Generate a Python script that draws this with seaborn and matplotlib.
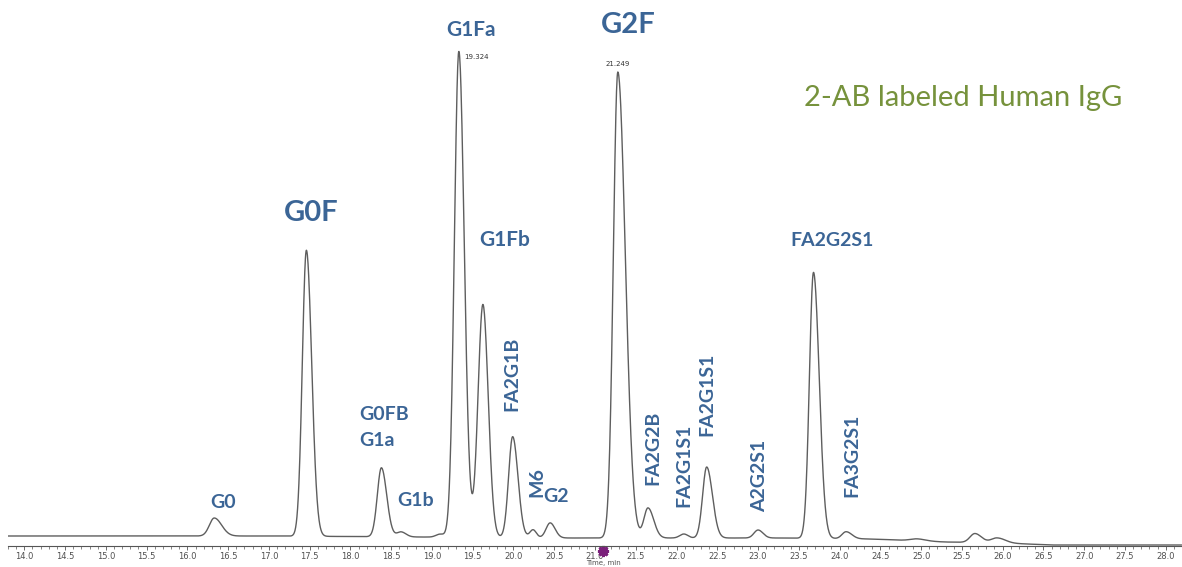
import numpy as np
import pandas as pd
import seaborn as sns
import matplotlib.pyplot as plt
from matplotlib.ticker import MultipleLocator

sns.set_theme(style="white")
plt.rcParams['font.family'] = ['Lato', 'DejaVu Sans']

# peaks: retention time (min), height (detector units), left/right widths (min)
peak_rt = [16.33, 17.46, 18.38, 18.62, 19.10, 19.33, 19.625, 19.99, 20.24, 20.45,
           21.28, 21.65, 22.09, 22.37, 23.00, 23.68, 24.08, 24.95, 25.66, 25.93]
peak_height = [18, 286, 69, 5, 3, 486, 233, 101, 8, 15,
               466, 30, 4, 71, 8, 266, 7, 2, 9, 5]
sigma_left = [0.06, 0.05, 0.05, 0.05, 0.05, 0.055, 0.06, 0.05, 0.04, 0.05,
              0.055, 0.05, 0.05, 0.05, 0.05, 0.05, 0.05, 0.08, 0.06, 0.07]
sigma_right = [0.09, 0.065, 0.065, 0.06, 0.05, 0.066, 0.065, 0.065, 0.04, 0.06,
               0.092, 0.07, 0.05, 0.07, 0.06, 0.07, 0.07, 0.10, 0.08, 0.10]

# slow baseline drift
base_t = [13.8, 17.0, 20.7, 23.3, 24.4, 25.3, 26.0, 26.6, 28.2]
base_y = [0, 0, -2, -2, -3, -6, -7, -9, -9]

# peak labels: text, time, level, rotation, size
labels = [
    ("G0", 16.44, 33, 0, 14),
    ("G0F", 17.52, 323, 0, 21),
    ("G1Fa", 19.48, 506, 0, 15),
    ("G1Fb", 19.895, 296, 0, 15),
    ("FA2G1B", 19.98, 162, 90, 14),
    ("M6", 20.29, 54, 90, 14),
    ("G2", 20.52, 39, 0, 14),
    ("G2F", 21.41, 511, 0, 21),
    ("FA2G2B", 21.71, 88, 90, 14),
    ("FA2G1S1", 22.09, 71, 90, 14),
    ("FA2G1S1", 22.37, 142, 90, 14),
    ("A2G2S1", 23.02, 60, 90, 14),
    ("FA2G2S1", 23.91, 296, 0, 14),
    ("FA3G2S1", 24.15, 81, 90, 14),
]
rt_marks = [("19.324", 19.40, 479, "left"), ("21.249", 21.28, 472, "center")]
inject_t = 21.1

t = np.arange(13.8, 28.2, 0.004)
signal = np.interp(t, base_t, base_y)
for rt, h, sl, sr in zip(peak_rt, peak_height, sigma_left, sigma_right):
    s = np.where(t < rt, sl, sr)
    signal = signal + h * np.exp(-0.5 * ((t - rt) / s) ** 2)
df = pd.DataFrame({"time": t, "signal": signal})

fig = plt.figure(figsize=(11.82, 5.67), dpi=100)
ax = fig.add_axes([8 / 1182, 21 / 567, 1 - 8 / 1182, 546 / 567])
sns.lineplot(data=df, x="time", y="signal", ax=ax, color="#5e5e5e", linewidth=1.0)

ax.set_xlim(13.8, 28.2)
ax.set_ylim(-10, 536)
ax.set_yticks([])
ax.set_ylabel("")
ax.set_xlabel("")
for side in ["left", "top", "right"]:
    ax.spines[side].set_visible(False)
ax.spines["bottom"].set_color("#555555")
ax.spines["bottom"].set_linewidth(0.8)
ax.xaxis.set_major_locator(MultipleLocator(0.5))
ax.xaxis.set_minor_locator(MultipleLocator(0.1))
ax.tick_params(axis="x", which="major", direction="out", length=3, width=0.6,
               color="#555555", labelsize=6, labelcolor="#505050", pad=1.5, bottom=True)
ax.tick_params(axis="x", which="minor", direction="out", length=2, width=0.5,
               color="#555555", bottom=True)
ax.set_xticks(np.arange(14.0, 28.01, 0.5))
ax.set_xticklabels([f"{v:.1f}" for v in np.arange(14.0, 28.01, 0.5)],
                   family=["Liberation Sans Narrow", "DejaVu Sans"])
ax.text((603 - 8) / 1174, -0.0315, "Time, min", transform=ax.transAxes,
        fontsize=5, color="#505050", ha="center", va="center",
        family=["Liberation Sans Narrow", "DejaVu Sans"])

blue = "#3b6596"
for txt, x, y, rot, size in labels:
    ax.text(x, y, txt, rotation=rot, fontsize=size, fontweight="bold", color=blue,
            ha="center", va="center")
ax.text(18.105, 121, "G0FB", fontsize=14, fontweight="bold", color=blue, ha="left", va="center")
ax.text(18.105, 96, "G1a", fontsize=14, fontweight="bold", color=blue, ha="left", va="center")
ax.text(18.57, 36, "G1b", fontsize=14, fontweight="bold", color=blue, ha="left", va="center")

for txt, x, y, ha in rt_marks:
    ax.text(x, y, txt, fontsize=5, color="#333333", ha=ha, va="center",
            family=["Liberation Sans Narrow", "DejaVu Sans"])

ax.text(25.51, 438, "2-AB labeled Human IgG", fontsize=21, color="#76923c",
        ha="center", va="center")

ax.plot([inject_t], [-15], marker=(8, 2, 0), markersize=8, mew=2,
        color="#7a1f7a", clip_on=False)

fig.savefig("out.png", dpi=100)
